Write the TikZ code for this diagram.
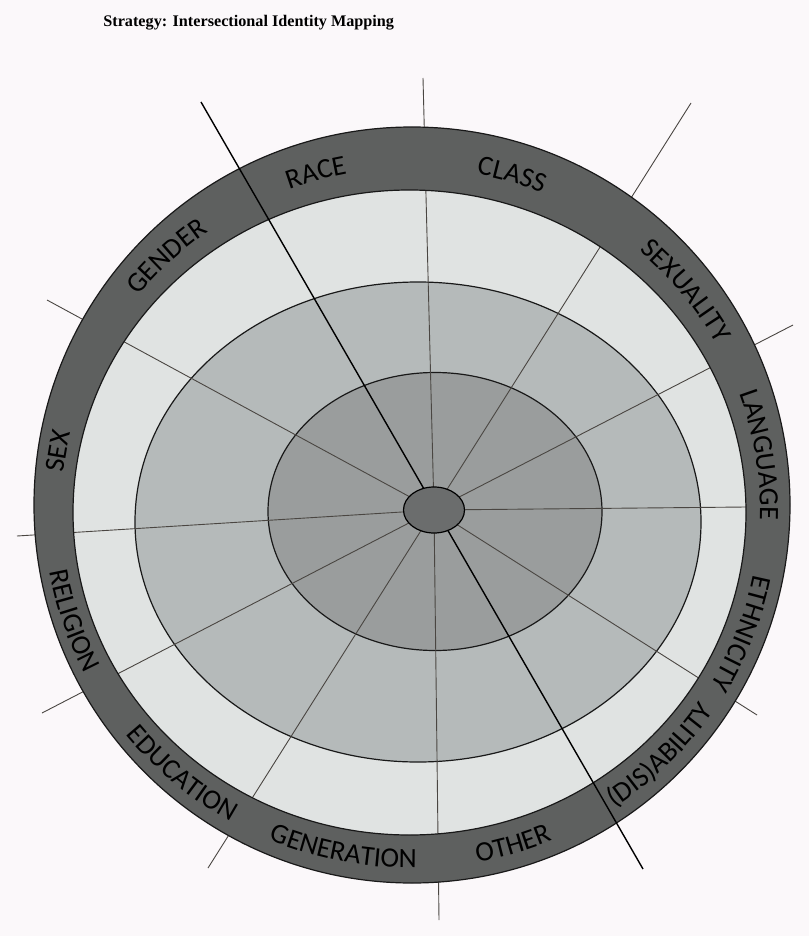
\documentclass[tikz,border=0pt]{standalone}
\usepackage{fontspec}
\setmainfont{Liberation Serif}
\newfontfamily\labfont{Carlito}
\usetikzlibrary{decorations.text,shapes.geometric}
\definecolor{bgc}{HTML}{FBF8FA}
\definecolor{darkc}{HTML}{5E605F}
\definecolor{lightc}{HTML}{E0E3E2}
\definecolor{midc}{HTML}{B5BABA}
\definecolor{innerc}{HTML}{9A9D9D}
\definecolor{hubc}{HTML}{6B6D6D}
\definecolor{spokec}{HTML}{4A4642}
\newcommand\lblfont{\labfont\fontsize{14}{16}\selectfont}
% top-style label: clockwise, letters facing outward
\newcommand\toplbl[2]{%
  \path[decorate,decoration={text along path,text align=center,text={|\lblfont|#2}}]
    ([shift={(411,-509)}]{#1+22}:349 and 341) arc[start angle={#1+22},end angle={#1-22},x radius=349,y radius=341];}
% bottom-style label: counterclockwise, letters facing inward
\newcommand\botlbl[2]{%
  \path[decorate,decoration={text along path,text align=center,text={|\lblfont|#2}}]
    ([shift={(411,-509)}]{#1-22}:367 and 359) arc[start angle={#1-22},end angle={#1+22},x radius=367,y radius=359];}
\begin{document}
\begin{tikzpicture}[x=0.5pt,y=0.5pt,
  spoke/.style={draw=spokec,line width=0.45pt},
  mainline/.style={draw=black,line width=0.7pt},
  ringline/.style={draw=black!90,line width=0.6pt}]
\useasboundingbox (0,0) rectangle (809,-936);
\fill[bgc] (0,0) rectangle (809,-936);
\node[anchor=base west,inner sep=0pt,font=\bfseries\fontsize{8.1}{10}\selectfont] (title) at (103,-27) {Strategy: Intersectional Identity Mapping};
% rings
\fill[lightc] (409.5,-512.5) ellipse[x radius=336.5,y radius=322.5];
\filldraw[fill=midc,ringline] (418,-522) ellipse[x radius=283,y radius=240];
\filldraw[fill=innerc,ringline] (435,-511.5) ellipse[x radius=167,y radius=139];
% spokes
\coordinate (c) at (434,-510);
\coordinate (e1) at (423,-78);
\coordinate (e2) at (201,-102);
\coordinate (e3) at (691,-103);
\coordinate (e4) at (793,-325);
\coordinate (e5) at (746,-507);
\coordinate (e6) at (757,-715);
\coordinate (e7) at (643,-869);
\coordinate (e8) at (439,-920);
\coordinate (e9) at (208,-868);
\coordinate (e10) at (42,-713);
\coordinate (e11) at (17,-536);
\coordinate (e12) at (47,-300);
\foreach \i in {1,3,4,5,6,8,9,10,11,12} \draw[spoke] (c) -- (e\i);
% dark outer ring
\fill[darkc,even odd rule] (412,-505) circle[radius=378] (409.5,-512.5) ellipse[x radius=336.5,y radius=322.5];
\draw[ringline] (412,-505) circle[radius=378];
\draw[ringline] (409.5,-512.5) ellipse[x radius=336.5,y radius=322.5];
\draw[mainline] (e2) -- (e7);
\node[ellipse,fill=hubc,draw=black,line width=0.6pt,minimum width=30.5pt,minimum height=23pt,inner sep=0pt] (hub) at (c) {};
% labels
\toplbl{170.5}{SEX}
\toplbl{133.5}{GENDER}
\toplbl{105.5}{RACE}
\toplbl{73.5}{CLASS}
\toplbl{39}{SEXUALITY}
\toplbl{9}{LANGUAGE}
\toplbl{-21}{ETHNICITY}
\botlbl{-45.3}{(DIS)ABILITY}
\botlbl{-73.4}{OTHER}
\botlbl{-101}{GENERATION}
\botlbl{-130.3}{EDUCATION}
\botlbl{-161.4}{RELIGION}
\end{tikzpicture}
\end{document}
